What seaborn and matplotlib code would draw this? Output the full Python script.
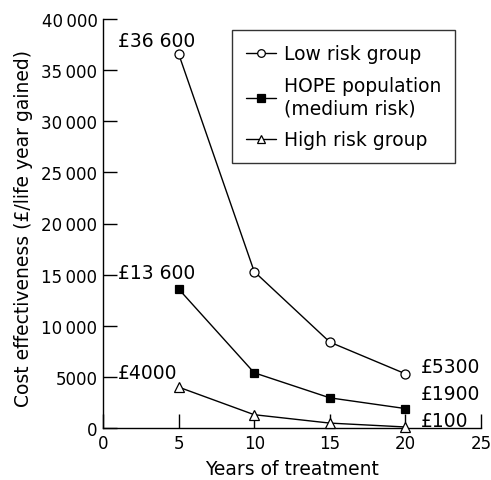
import matplotlib
matplotlib.use("Agg")
import matplotlib.pyplot as plt
import seaborn as sns

years = [5, 10, 15, 20]
low_risk = [36600, 15300, 8400, 5300]
hope_pop = [13600, 5400, 2950, 1900]
high_risk = [4000, 1300, 480, 100]
series_names = ["Low risk group", "HOPE population\n(medium risk)", "High risk group"]
y_ticks = [0, 5000, 10000, 15000, 20000, 25000, 30000, 35000, 40000]
y_tick_labels = ["0", "5000", "10\u2009000", "15\u2009000", "20\u2009000", "25\u2009000",
                 "30\u2009000", "35\u2009000", "40\u2009000"]
x_ticks = [0, 5, 10, 15, 20, 25]

sns.set_style("ticks")
plt.rcParams["font.family"] = ["DejaVu Sans"]
plt.rcParams["font.size"] = 13
plt.rcParams["text.color"] = "black"
plt.rcParams["axes.labelcolor"] = "black"
plt.rcParams["xtick.color"] = "black"
plt.rcParams["ytick.color"] = "black"
plt.rcParams["legend.labelcolor"] = "black"

fig = plt.figure(figsize=(4.91, 4.81), dpi=100)
ax = fig.add_axes([103/491, 1-429/481, 378/491, 409/481])

styles = [
    (low_risk, "o", "white", 6.5),
    (hope_pop, "s", "black", 6.0),
    (high_risk, "^", "white", 7.0),
]
for (vals, mk, fc, ms), name in zip(styles, series_names):
    sns.lineplot(x=years, y=vals, ax=ax, color="black", linewidth=1.0,
                 marker=mk, markersize=ms, markerfacecolor=fc,
                 markeredgecolor="black", markeredgewidth=0.9,
                 label=name, clip_on=False, zorder=3)

ax.set_xlim(0, 25)
ax.set_ylim(0, 40000)
ax.set_xticks(x_ticks)
ax.set_xticklabels([str(t) for t in x_ticks])
ax.set_yticks(y_ticks)
ax.set_yticklabels(y_tick_labels)
ax.tick_params(direction="in", length=10, width=1, colors="black",
               labelcolor="black", labelsize=12, pad=4)
for s in ["top", "right"]:
    ax.spines[s].set_visible(False)
for s in ["left", "bottom"]:
    ax.spines[s].set_linewidth(1.0)
    ax.spines[s].set_color("black")

ax.set_xlabel("Years of treatment", fontsize=13.5, color="black")
ax.set_ylabel("Cost effectiveness (£/life year gained)", fontsize=13.5, color="black")
ax.xaxis.set_label_coords(0.5, -0.075)
ax.yaxis.set_label_coords(-0.185, 0.49)

# value annotations
fs = 13.5
ax.text(1.0, 37900, "£36 600", ha="left", va="center", fontsize=fs, color="black")
ax.text(1.0, 15250, "£13 600", ha="left", va="center", fontsize=fs, color="black")
ax.text(1.0, 5380, "£4000", ha="left", va="center", fontsize=fs, color="black")
ax.text(21.0, 5970, "£5300", ha="left", va="center", fontsize=fs, color="black")
ax.text(21.0, 3420, "£1900", ha="left", va="center", fontsize=fs, color="black")
ax.text(21.0, 780, "£100", ha="left", va="center", fontsize=fs, color="black")

leg = ax.legend(loc="upper left", bbox_to_anchor=((232-103)/378, (429-31)/409),
                frameon=True, fancybox=False, edgecolor="black", fontsize=13.5,
                handlelength=1.6, handletextpad=0.4, labelspacing=0.7,
                borderpad=0.75, borderaxespad=0)
leg.get_frame().set_linewidth(1.0)
for t in leg.get_texts():
    t.set_color("black")
for h in leg.legend_handles:
    h.set_markersize(5.5)

fig.savefig("out.png", dpi=100)
